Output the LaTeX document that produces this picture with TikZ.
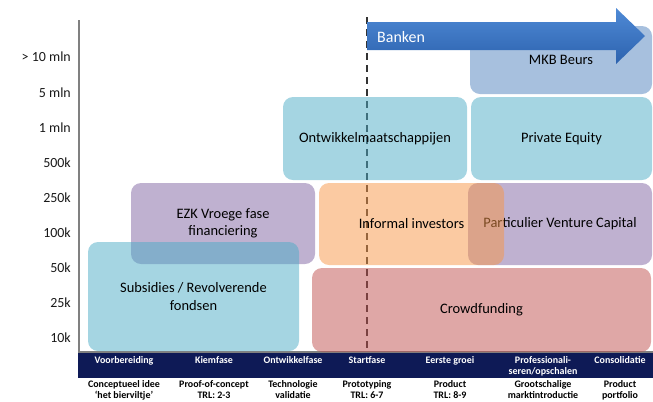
\documentclass[tikz,border=0pt]{standalone}
\usepackage{fontspec}
\setmainfont{Carlito}
\definecolor{accone}{HTML}{4F81BD}
\definecolor{acctwo}{HTML}{C0504D}
\definecolor{accfour}{HTML}{8064A2}
\definecolor{accfive}{HTML}{4BACC6}
\definecolor{accsix}{HTML}{F79646}
\definecolor{navyband}{HTML}{0E1A56}
\definecolor{arrowtop}{HTML}{4F8AD6}
\definecolor{arrowbot}{HTML}{2C62AE}
\begin{document}
\begin{tikzpicture}[x=1bp,y=-1bp,
  fundbox/.style={rounded corners=10bp, fill opacity=0.5, text opacity=1, draw=none,
    font=\fontsize{14.5}{17.5}\selectfont, align=center, inner sep=0pt, text=black},
  ylab/.style={anchor=east, inner sep=0pt, font=\fontsize{14}{16}\selectfont, text=black!90},
  phase/.style={anchor=north, inner sep=0pt, align=center, text=white, font=\bfseries\fontsize{10}{11}\selectfont},
  phasedesc/.style={anchor=north, inner sep=0pt, align=center, text=black, font=\bfseries\fontsize{10}{11}\selectfont},
  axisline/.style={draw=black!50, line width=1.4bp},
  dashline/.style={draw=black!80, line width=2bp, dash pattern=on 7bp off 5bp}
]
\useasboundingbox (0,0) rectangle (653,401);

% axis
\coordinate (atop) at (79,20);
\coordinate (aorig) at (79,352);
\coordinate (aright) at (653,352);
\draw[axisline] (atop) -- (aorig) -- (aright);

% y labels
\node[ylab] (y1) at (71,57) {> 10 mln};
\node[ylab] (y2) at (71,93) {5 mln};
\node[ylab] (y3) at (71,128) {1 mln};
\node[ylab] (y4) at (71,163) {500k};
\node[ylab] (y5) at (71,198) {250k};
\node[ylab] (y6) at (71,233) {100k};
\node[ylab] (y7) at (71,268) {50k};
\node[ylab] (y8) at (71,303) {25k};
\node[ylab] (y9) at (71,338) {10k};

% dashed line
\coordinate (dtop) at (367,17);
\coordinate (dbot) at (367,352);
\draw[dashline] (dtop) -- (dbot);

% boxes
\node[fundbox, fill=accfour, minimum width=184bp, minimum height=81bp] (ezk) at (223,223.5) {EZK Vroege fase\\financiering};
\node[fundbox, fill=accfive, minimum width=211bp, minimum height=109bp] (subs) at (193.5,296.5) {Subsidies / Revolverende\\fondsen};
\node[fundbox, fill=accfour, minimum width=184bp, minimum height=82bp] (part) at (560,224) {Particulier Venture Capital};
\node[fundbox, fill=accsix, minimum width=185bp, minimum height=82bp] (inf) at (411.5,224) {Informal investors};
\node[fundbox, fill=acctwo, minimum width=339bp, minimum height=84bp] (crowd) at (481.5,310) {Crowdfunding};
\node[fundbox, fill=accfive, minimum width=184bp, minimum height=83bp] (ontw) at (375,138.5) {Ontwikkelmaatschappijen};
\node[fundbox, fill=accfive, minimum width=181bp, minimum height=83bp] (pe) at (561.5,138.5) {Private Equity};
\node[fundbox, fill=accone, minimum width=182bp, minimum height=68bp] (mkb) at (561,60) {MKB Beurs};

% Banken arrow
\shade[top color=arrowtop, bottom color=arrowbot]
  (367,22) -- (616,22) -- (616,8) -- (645,36) -- (616,64) -- (616,50) -- (367,50) -- cycle;
\node[anchor=west, inner sep=0pt, text=white, font=\fontsize{16}{18}\selectfont] (banken) at (377,37) {Banken};

% phase band
\fill[navyband] (78,353) rectangle (653,378);
\node[phase] (p1) at (124,356.5) {Voorbereiding};
\node[phase] (p2) at (214,356.5) {Kiemfase};
\node[phase] (p3) at (293,356.5) {Ontwikkelfase};
\node[phase] (p4) at (367,356.5) {Startfase};
\node[phase] (p5) at (450,356.5) {Eerste groei};
\node[phase] (p6) at (543,356.5) {Professionali-\\seren/opschalen};
\node[phase] (p7) at (620,356.5) {Consolidatie};

\node[phasedesc] (d1) at (124,380) {Conceptueel idee\\‘het bierviltje’};
\node[phasedesc] (d2) at (214,380) {Proof-of-concept\\TRL: 2-3};
\node[phasedesc] (d3) at (293,380) {Technologie\\validatie};
\node[phasedesc] (d4) at (367,380) {Prototyping\\TRL: 6-7};
\node[phasedesc] (d5) at (450,380) {Product\\TRL: 8-9};
\node[phasedesc] (d6) at (543,380) {Grootschalige\\marktintroductie};
\node[phasedesc] (d7) at (620,380) {Product\\portfolio};
\end{tikzpicture}
\end{document}
